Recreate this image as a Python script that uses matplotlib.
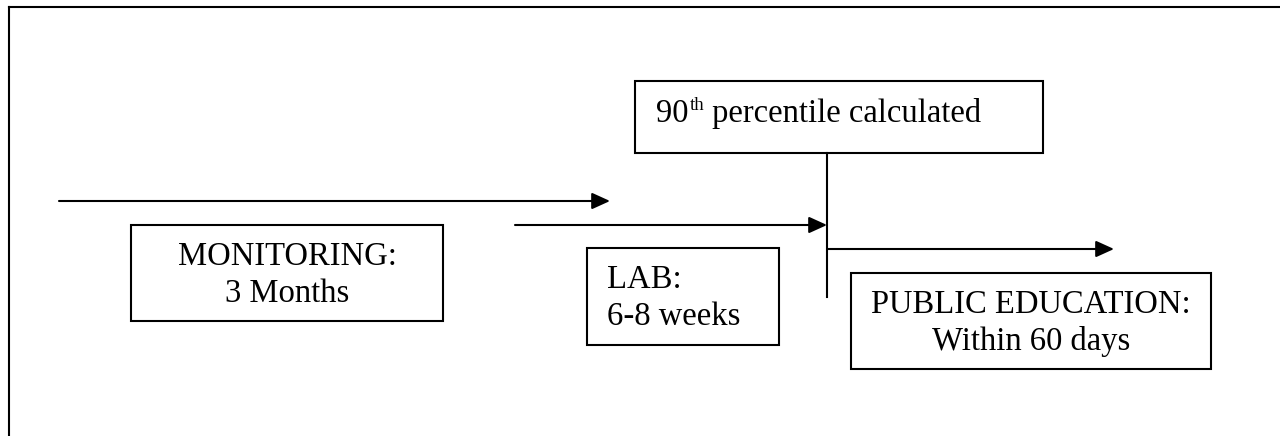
import matplotlib
matplotlib.use("Agg")
import matplotlib.pyplot as plt
from matplotlib.patches import Rectangle
from matplotlib.transforms import offset_copy

plt.rcParams['font.family'] = ['Liberation Serif', 'DejaVu Serif']

# ---- content ----
stage_titles = ["MONITORING:", "LAB:", "PUBLIC EDUCATION:"]
stage_durations = ["3 Months", "6-8 weeks", "Within 60 days"]
milestone_parts = ["90", "th", " percentile calculated"]

# ---- layout (pixel coordinates, y downward) ----
W, H = 1280, 436
stage_boxes = [(131, 225, 443, 321), (587, 248, 779, 345), (851, 273, 1211, 369)]
stage_align = ['center', 'left', 'center']
stage_text_x = [287, 607, 1031]
title_baseline = [265, 288, 313]
dur_baseline = [302, 325, 350]
milestone_box = (635, 81, 1043, 153)
milestone_text = (656, 122)
arrows = [(59, 610, 201), (515, 827, 225), (827, 1114, 249)]
vline = (827, 153, 297)

fig = plt.figure(figsize=(W / 100, H / 100), dpi=100)
ax = fig.add_axes([0, 0, 1, 1])
ax.set_xlim(0, W)
ax.set_ylim(H, 0)
ax.axis('off')

lw = 1.5
fs = 23.5

# outer frame (top and left)
ax.plot([9, W], [7, 7], color='black', lw=lw, solid_capstyle='projecting')
ax.plot([9, 9], [7, H], color='black', lw=lw, solid_capstyle='projecting')

for (x0, y0, x1, y1), t, d, al, tx, tb, db in zip(stage_boxes, stage_titles, stage_durations,
                                                   stage_align, stage_text_x, title_baseline, dur_baseline):
    ax.add_patch(Rectangle((x0, y0), x1 - x0, y1 - y0, fill=False, ec='black', lw=lw))
    ax.text(tx, tb, t, ha=al, va='baseline', fontsize=fs)
    ax.text(tx, db, d, ha=al, va='baseline', fontsize=fs)

x0, y0, x1, y1 = milestone_box
ax.add_patch(Rectangle((x0, y0), x1 - x0, y1 - y0, fill=False, ec='black', lw=lw))

# milestone text with superscript
renderer = fig.canvas.get_renderer()
mx, my = milestone_text
t1 = ax.text(mx, my, milestone_parts[0], ha='left', va='baseline', fontsize=fs)
w1 = t1.get_window_extent(renderer).width
t2 = ax.text(mx, my, milestone_parts[1], ha='left', va='baseline', fontsize=fs * 0.58,
             transform=offset_copy(ax.transData, fig=fig, x=(w1 + 1) * 72 / 100, y=12 * 72 / 100, units='points'))
w2 = t2.get_window_extent(renderer).width
ax.text(mx, my, milestone_parts[2], ha='left', va='baseline', fontsize=fs,
        transform=offset_copy(ax.transData, fig=fig, x=(w1 + 1 + w2) * 72 / 100, y=0, units='points'))

vx, vy0, vy1 = vline
ax.plot([vx, vx], [vy0, vy1], color='black', lw=lw)

for xs, xe, y in arrows:
    ax.annotate('', xy=(xe, y), xytext=(xs, y),
                arrowprops=dict(arrowstyle='-|>,head_length=1.1,head_width=0.5',
                                mutation_scale=10, color='black', lw=lw,
                                shrinkA=0, shrinkB=0))

fig.savefig('out.png', dpi=100, facecolor='white')
